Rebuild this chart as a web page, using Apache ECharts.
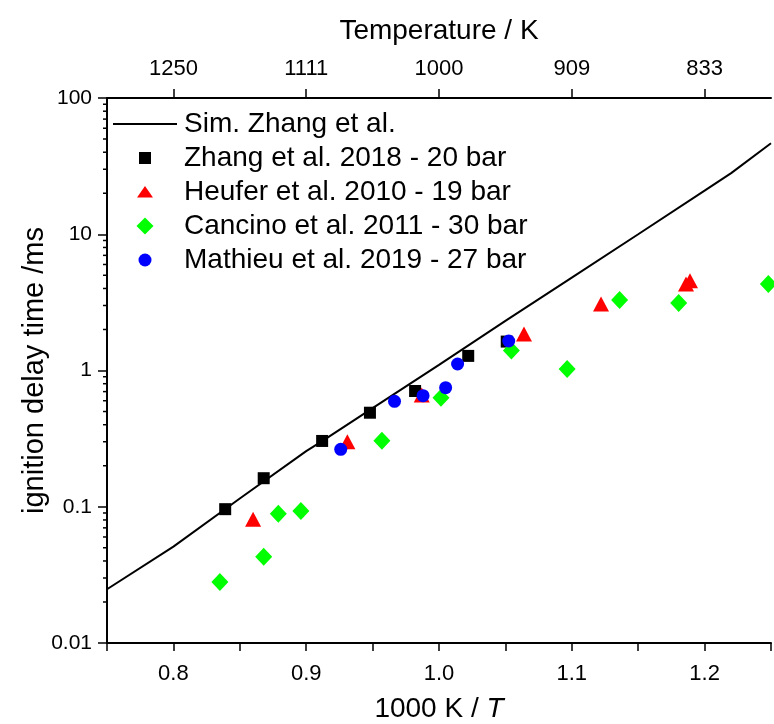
<!DOCTYPE html>
<html><head><meta charset="utf-8">
<script src="https://cdn.jsdelivr.net/npm/echarts@6/dist/echarts.min.js"></script>
<style>html,body{margin:0;padding:0;background:#fff}#c{width:774px;height:724px}</style>
</head><body><div id="c"></div>
<script>
// Simulation line (1000K/T, ms)
const simX = [0.75, 0.80, 0.85, 0.90, 0.9123, 0.95, 1.00, 1.05, 1.10, 1.15, 1.20, 1.22, 1.25];
const simY = [0.0248, 0.051, 0.115, 0.256, 0.304, 0.53, 1.10, 2.31, 4.81, 10.0, 20.9, 28.1, 46.5];
// Zhang et al. 2018 - 20 bar
const zhangX = [0.839, 0.868, 0.912, 0.948, 0.982, 1.022, 1.051];
const zhangY = [0.096, 0.162, 0.304, 0.49, 0.707, 1.28, 1.63];
// Heufer et al. 2010 - 19 bar
const heuferX = [0.860, 0.931, 0.987, 1.064, 1.122, 1.186, 1.189];
const heuferY = [0.081, 0.30, 0.66, 1.85, 3.08, 4.31, 4.56];
// Cancino et al. 2011 - 30 bar
const cancinoX = [0.835, 0.868, 0.879, 0.896, 0.957, 1.0015, 1.0545, 1.0965, 1.136, 1.1805, 1.248];
const cancinoY = [0.028, 0.043, 0.089, 0.093, 0.305, 0.631, 1.40, 1.026, 3.29, 3.13, 4.31];
// Mathieu et al. 2019 - 27 bar
const mathieuX = [0.926, 0.9665, 0.988, 1.005, 1.014, 1.0525];
const mathieuY = [0.264, 0.594, 0.653, 0.748, 1.116, 1.646];

const seriesNames = ['Sim. Zhang et al.', 'Zhang et al. 2018 - 20 bar', 'Heufer et al. 2010 - 19 bar', 'Cancino et al. 2011 - 30 bar', 'Mathieu et al. 2019 - 27 bar'];

// Axes
const xMin = 0.75, xMax = 1.25;
const bottomTickValues = [0.8, 0.9, 1.0, 1.1, 1.2];
const bottomTickLabels = ['0.8', '0.9', '1.0', '1.1', '1.2'];
const topTickValues = [0.8, 0.9, 1.0, 1.1, 1.2];
const topTickLabels = ['1250', '1111', '1000', '909', '833'];
const yMin = 0.01, yMax = 100;
const yMinorTicks = [0.02,0.03,0.04,0.05,0.06,0.07,0.08,0.09,
                     0.2,0.3,0.4,0.5,0.6,0.7,0.8,0.9,
                     2,3,4,5,6,7,8,9,
                     20,30,40,50,60,70,80,90];

const FONT = '"Liberation Sans", Arial, sans-serif';
const zip = (a, b) => a.map((v, i) => [v, b[i]]);
const findLabel = (vals, labels, v) => {
  for (let i = 0; i < vals.length; i++) if (Math.abs(vals[i] - v) < 1e-6) return labels[i];
  return '';
};

const chart = echarts.init(document.getElementById('c'), null, {renderer: 'canvas'});
chart.setOption({
  animation: false,
  backgroundColor: '#fff',
  textStyle: {fontFamily: FONT},
  grid: {left: 107, right: 3, top: 98, bottom: 81, containLabel: false, outerBoundsMode: 'none'},
  legend: {
    orient: 'vertical', left: 108, top: 102,
    itemWidth: 64, itemHeight: 17, itemGap: 0,
    symbolKeepAspect: true,
    data: [
      {name: seriesNames[0], icon: 'path://M0,0H100V3H0Z'},
      {name: seriesNames[1], icon: 'path://M0,0M17,17M2.5,2.5H14.5V14.5H2.5Z'},
      {name: seriesNames[2], icon: 'path://M0,0M17,17M8.5,2.5L16.5,14H0.5Z'},
      {name: seriesNames[3], icon: 'path://M8.5,0L17,8.5L8.5,17L0,8.5Z'},
      {name: seriesNames[4], icon: 'path://M0,0M17,17M15,8.5A6.5,6.5,0,1,1,2,8.5A6.5,6.5,0,1,1,15,8.5Z'}
    ],
    textStyle: {fontFamily: FONT, fontSize: 28, color: '#000', lineHeight: 34, padding: [0, 0, 0, 2]}
  },
  xAxis: [{
    type: 'value', position: 'bottom', min: xMin, max: xMax, interval: 0.05,
    name: '1000 K / {i|T}', nameLocation: 'middle', nameGap: 52, nameMoveOverlap: false,
    nameTextStyle: {fontFamily: FONT, fontSize: 28, color: '#000', rich: {i: {fontFamily: FONT, fontSize: 28, fontStyle: 'italic', color: '#000'}}},
    axisLine: {onZero: false, lineStyle: {color: '#000', width: 2}},
    axisTick: {show: true, inside: false, length: 8, lineStyle: {color: '#000', width: 1.5}},
    axisLabel: {fontFamily: FONT, fontSize: 22, color: '#000', margin: 20,
      formatter: v => findLabel(bottomTickValues, bottomTickLabels, v)},
    splitLine: {show: false}
  }, {
    type: 'value', position: 'top', min: xMin, max: xMax,
    name: 'Temperature / K', nameLocation: 'middle', nameGap: 53, nameMoveOverlap: false,
    nameTextStyle: {fontFamily: FONT, fontSize: 28, color: '#000'},
    axisLine: {onZero: false, lineStyle: {color: '#000', width: 2}},
    axisTick: {show: true, inside: false, length: 9, lineStyle: {color: '#000', width: 1.5}, customValues: topTickValues},
    axisLabel: {fontFamily: FONT, fontSize: 22, color: '#000', margin: 18, customValues: topTickValues,
      formatter: v => findLabel(topTickValues, topTickLabels, v)},
    splitLine: {show: false}
  }],
  yAxis: {
    type: 'log', logBase: 10, min: yMin, max: yMax, interval: 1,
    name: 'ignition delay time /ms', nameLocation: 'middle', nameGap: 58, nameMoveOverlap: false,
    nameTextStyle: {fontFamily: FONT, fontSize: 29, color: '#000'},
    axisLine: {onZero: false, lineStyle: {color: '#000', width: 2}},
    axisTick: {show: true, inside: false, length: 9, lineStyle: {color: '#000', width: 1.5}},
    axisLabel: {fontFamily: FONT, fontSize: 21, color: '#000', margin: 15,
      formatter: v => String(+v.toPrecision(6))},
    splitLine: {show: false}
  },
  series: [
    {name: seriesNames[0], type: 'line', data: zip(simX, simY), showSymbol: false, symbol: 'none',
     smooth: false, lineStyle: {color: '#000', width: 2}, itemStyle: {color: '#000'}, z: 2},
    {name: seriesNames[1], type: 'scatter', data: zip(zhangX, zhangY), symbol: 'rect', symbolSize: 12,
     itemStyle: {color: '#000', opacity: 1}, z: 3},
    {name: seriesNames[2], type: 'scatter', data: zip(heuferX, heuferY), symbol: 'triangle', symbolSize: [16, 15],
     itemStyle: {color: '#ff0000', opacity: 1}, z: 4},
    {name: seriesNames[3], type: 'scatter', data: zip(cancinoX, cancinoY), symbol: 'diamond', symbolSize: [17, 18],
     itemStyle: {color: '#00ff00', opacity: 1}, z: 5},
    {name: seriesNames[4], type: 'scatter', data: zip(mathieuX, mathieuY), symbol: 'circle', symbolSize: 13,
     itemStyle: {color: '#0000ff', opacity: 1}, z: 6},
    {name: 'yMinorTicks', type: 'custom', silent: true, clip: false, z: 10,
     data: yMinorTicks.map(v => [xMin, v]),
     encode: {x: 0, y: 1},
     renderItem: (params, api) => {
       const p = api.coord([api.value(0), api.value(1)]);
       return {type: 'line', shape: {x1: p[0] - 4, y1: p[1], x2: p[0], y2: p[1]},
               style: {stroke: '#000', lineWidth: 1.5}};
     }}
  ]
});
</script></body></html>
